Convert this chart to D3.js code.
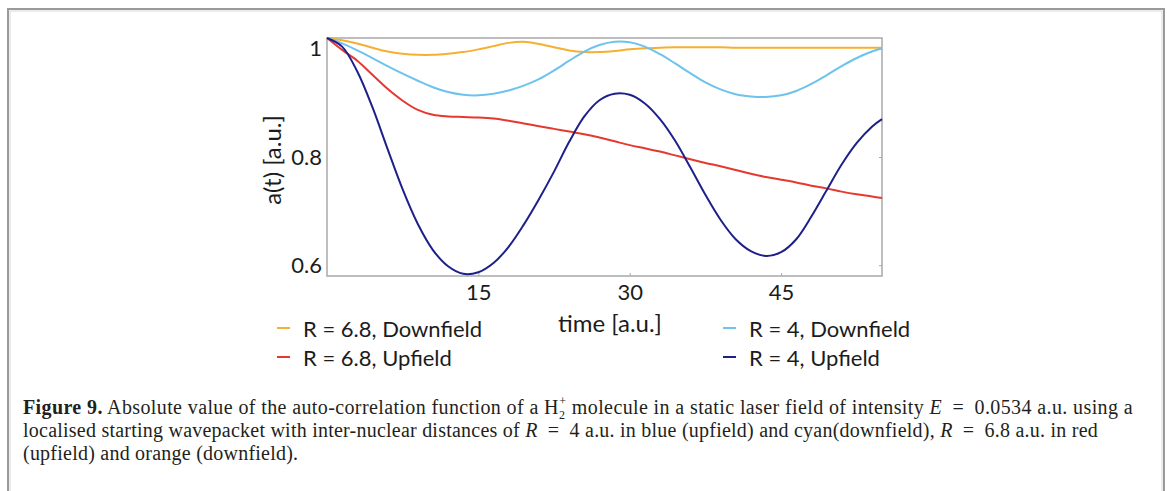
<!DOCTYPE html>
<html>
<head>
<meta charset="utf-8">
<script src="https://cdn.jsdelivr.net/npm/d3@7"></script>
<style>
  html, body { margin: 0; padding: 0; background: #fff; }
  svg { display: block; }
</style>
</head>
<body>
<svg id="fig" width="1167" height="491"></svg>
<script>
// Time samples (a.u.)
const time = [0, 1.5, 3, 4.5, 6, 7.5, 9, 10.5, 12, 13.5, 15, 16.5, 18, 19.5, 21, 22.5, 24, 25.5, 27, 28.5,
              30, 31.5, 33, 34.5, 36, 37.5, 39, 40.5, 42, 43.5, 45, 46.5, 48, 49.5, 51, 52.5, 54, 55];

// |auto-correlation| for each configuration
const r68Down = [1.020, 1.016, 1.010, 1.002, 0.995, 0.991, 0.989, 0.989, 0.991, 0.994, 0.999, 1.005, 1.011, 1.013,
                 1.009, 1.003, 0.997, 0.994, 0.994, 0.996, 0.999, 1.001, 1.002, 1.003, 1.003, 1.003, 1.003, 1.002,
                 1.002, 1.002, 1.002, 1.002, 1.002, 1.002, 1.002, 1.002, 1.002, 1.002];
const r68Up   = [1.020, 0.998, 0.978, 0.952, 0.926, 0.904, 0.887, 0.878, 0.875, 0.874, 0.873, 0.871, 0.867, 0.862,
                 0.857, 0.852, 0.847, 0.842, 0.836, 0.829, 0.822, 0.816, 0.810, 0.803, 0.796, 0.789, 0.783, 0.776,
                 0.769, 0.763, 0.758, 0.753, 0.747, 0.742, 0.736, 0.731, 0.727, 0.724];
const r4Down  = [1.020, 1.010, 0.997, 0.983, 0.968, 0.954, 0.941, 0.929, 0.920, 0.915, 0.914, 0.917, 0.923, 0.932,
                 0.944, 0.960, 0.978, 0.995, 1.007, 1.013, 1.012, 1.004, 0.990, 0.973, 0.955, 0.938, 0.925, 0.916,
                 0.912, 0.911, 0.914, 0.922, 0.935, 0.951, 0.968, 0.983, 0.995, 1.001];
const r4Up    = [1.020, 1.004, 0.958, 0.892, 0.815, 0.740, 0.676, 0.628, 0.598, 0.584, 0.587, 0.604, 0.634, 0.675,
                 0.722, 0.773, 0.828, 0.875, 0.905, 0.917, 0.915, 0.899, 0.870, 0.830, 0.781, 0.730, 0.684, 0.648,
                 0.626, 0.617, 0.624, 0.648, 0.690, 0.738, 0.786, 0.826, 0.856, 0.870];

const seriesNames  = ["R = 6.8, Downfield", "R = 6.8, Upfield", "R = 4, Downfield", "R = 4, Upfield"];
const seriesColors = ["#f6b031", "#e5392f", "#6ec3ec", "#1f1f8a"];
const seriesValues = [r68Down, r68Up, r4Down, r4Up];

const xTicks = [15, 30, 45];
const yTicks = [0.6, 0.8, 1];

const svg = d3.select("#fig");
const sans = "Lato, 'Open Sans', sans-serif";
const serif = "'Liberation Serif', 'DejaVu Serif', serif";
const ink = "#1c1c1c";

// Figure frame (open at the bottom)
svg.append("path")
  .attr("d", "M8,491 L8,9 L1164,9 L1164,491")
  .attr("fill", "none").attr("stroke", "#9a9a9a").attr("stroke-width", 2);
svg.append("path")
  .attr("d", "M10,491 L10,11 L1162,11 L1162,491")
  .attr("fill", "none").attr("stroke", "#d8d8d8").attr("stroke-width", 1);

// Plot area
const plot = { left: 327, right: 882, top: 38, bottom: 276 };
const x = d3.scaleLinear().domain([0, 55]).range([plot.left, plot.right]);
const y = d3.scaleLinear().domain([0.58, 1.02]).range([plot.bottom, plot.top]);

const g = svg.append("g");

// Axes box
g.append("rect")
  .attr("x", plot.left).attr("y", plot.top)
  .attr("width", plot.right - plot.left).attr("height", plot.bottom - plot.top)
  .attr("fill", "none").attr("stroke", "#a9a9a9").attr("stroke-width", 1.5);

// Bottom axis
const xAxis = g.append("g")
  .attr("transform", `translate(0,${plot.bottom})`)
  .call(d3.axisBottom(x).tickValues(xTicks).tickSize(-3).tickPadding(8).tickFormat(d3.format("d")));
xAxis.select(".domain").remove();
xAxis.selectAll(".tick line").attr("stroke", "#a9a9a9");
xAxis.selectAll(".tick text").attr("font-family", sans).attr("font-size", 22).attr("fill", ink);

// Left axis
const yAxis = g.append("g")
  .attr("transform", `translate(${plot.left},0)`)
  .call(d3.axisLeft(y).tickValues(yTicks).tickSize(0).tickPadding(5).tickFormat(d3.format(".1~f")));
yAxis.select(".domain").remove();
yAxis.selectAll(".tick text").attr("font-family", sans).attr("font-size", 22).attr("fill", ink);

// Right-side inner ticks
const yRight = g.append("g")
  .attr("transform", `translate(${plot.right},0)`)
  .call(d3.axisRight(y).tickValues(yTicks).tickSize(-3).tickFormat(""));
yRight.select(".domain").remove();
yRight.selectAll(".tick line").attr("stroke", "#a9a9a9");

// Axis titles
g.append("text")
  .attr("transform", `translate(${271},${160}) rotate(-90)`)
  .attr("text-anchor", "middle").attr("dominant-baseline", "central")
  .attr("font-family", sans).attr("font-size", 24).attr("fill", ink)
  .text("a(t) [a.u.]");
g.append("text")
  .attr("x", 610).attr("y", 322)
  .attr("text-anchor", "middle").attr("dominant-baseline", "central")
  .attr("font-family", sans).attr("font-size", 24).attr("fill", ink)
  .text("time [a.u.]");

// Curves
const line = d3.line()
  .x((d, i) => x(time[i]))
  .y(d => y(d))
  .curve(d3.curveCatmullRom.alpha(0.5));

g.append("g").selectAll("path")
  .data(seriesValues)
  .join("path")
  .attr("d", line)
  .attr("fill", "none")
  .attr("stroke", (d, i) => seriesColors[i])
  .attr("stroke-width", 2)
  .attr("stroke-linejoin", "round");

// Legend: two columns of two rows
const legendPos = [
  { x: 277, y: 328 }, { x: 277, y: 357 },
  { x: 723, y: 328 }, { x: 723, y: 357 }
];
const legend = g.append("g").selectAll("g")
  .data(seriesNames)
  .join("g")
  .attr("transform", (d, i) => `translate(${legendPos[i].x},${legendPos[i].y})`);
legend.append("line")
  .attr("x1", 0).attr("x2", 13).attr("y1", 0).attr("y2", 0)
  .attr("stroke", (d, i) => seriesColors[i]).attr("stroke-width", 2);
legend.append("text")
  .attr("x", 26).attr("y", 0).attr("dominant-baseline", "central")
  .attr("font-family", sans).attr("font-size", 22).attr("fill", ink)
  .text(d => d);

// Caption
const cap = svg.append("g").attr("font-family", serif).attr("font-size", 20).attr("fill", "#231f20");
const l1 = cap.append("text").attr("x", 23).attr("y", 414);
l1.append("tspan").attr("font-weight", "bold").text("Figure 9.");
l1.append("tspan").text(" Absolute value of the auto-correlation function of a H");
l1.append("tspan").attr("font-size", 12).attr("dy", 5).text("2");
l1.append("tspan").attr("font-size", 12).attr("dx", -6).attr("dy", -14).text("+");
l1.append("tspan").attr("dy", 9).text(" molecule in a static laser field of intensity ");
l1.append("tspan").attr("font-style", "italic").text("E");
l1.append("tspan").text("\u2002=\u20020.0534 a.u. using a");

const l2 = cap.append("text").attr("x", 23).attr("y", 437);
l2.append("tspan").text("localised starting wavepacket with inter-nuclear distances of ");
l2.append("tspan").attr("font-style", "italic").text("R");
l2.append("tspan").text("\u2002=\u20024 a.u. in blue (upfield) and cyan(downfield), ");
l2.append("tspan").attr("font-style", "italic").text("R");
l2.append("tspan").text("\u2002=\u20026.8 a.u. in red");

const l3 = cap.append("text").attr("x", 23).attr("y", 460).text("(upfield) and orange (downfield).");

// Spread each caption line to its set width
function fitLine(sel, width) {
  const n = sel.text().length;
  const natural = sel.node().getComputedTextLength();
  const ls = Math.max(0, (width - natural) / n);
  sel.attr("letter-spacing", ls);
  return ls;
}
fitLine(l1, 1116);
const ls2 = fitLine(l2, 1075);
l3.attr("letter-spacing", ls2);
</script>
</body>
</html>
